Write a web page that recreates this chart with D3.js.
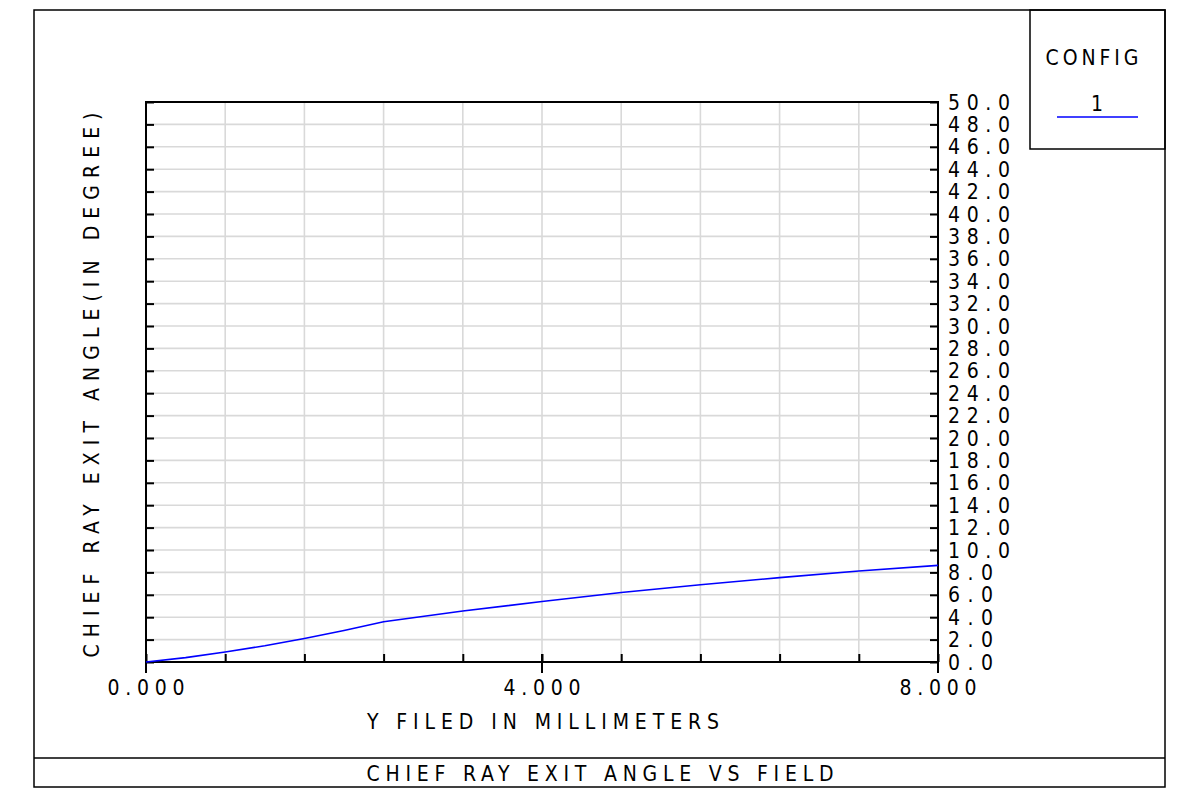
<!DOCTYPE html>
<html><head><meta charset="utf-8">
<script src="https://cdn.jsdelivr.net/npm/d3@7/dist/d3.min.js"></script>
<style>html,body{margin:0;padding:0;background:#fff;}svg{display:block;}
text{font-family:"Liberation Sans Narrow","DejaVu Sans Condensed","DejaVu Sans Mono",sans-serif;fill:#000;}</style>
</head><body>
<script>
// Data
const fieldValues = [0, 0.4, 0.8, 1.2, 1.6, 2.0, 2.4, 3.2, 4.0, 4.8, 5.6, 6.4, 7.2, 8.0];
const angleValues = [0, 0.39, 0.89, 1.45, 2.1, 2.82, 3.6, 4.55, 5.4, 6.2, 6.9, 7.53, 8.12, 8.63];
const yTickValues = d3.range(0, 50.01, 2);
const xTickValues = d3.range(0, 8.01, 0.8);
const xLabelValues = [0, 4, 8];
const chartTitle = "CHIEF RAY EXIT ANGLE VS FIELD";
const xTitle = "Y FILED IN MILLIMETERS";
const yTitle = "CHIEF RAY EXIT ANGLE(IN DEGREE)";
const legendTitle = "CONFIG";
const legendLabels = ["1"];

const W = 1200, H = 802;
const svg = d3.select("body").append("svg").attr("width", W).attr("height", H);

const pLeft = 146, pRight = 938, pTop = 102, pBottom = 662;
const x = d3.scaleLinear().domain([0, 8]).range([pLeft, pRight]);
const y = d3.scaleLinear().domain([0, 50]).range([pBottom, pTop]);
const FS = 21;

// outer frame
svg.append("rect").attr("x", 34).attr("y", 10).attr("width", 1131).attr("height", 777)
  .attr("fill", "none").attr("stroke", "#000").attr("stroke-width", 1.5);
svg.append("line").attr("x1", 34).attr("x2", 1165).attr("y1", 758).attr("y2", 758)
  .attr("stroke", "#000").attr("stroke-width", 1.5);
// legend box
svg.append("rect").attr("x", 1030).attr("y", 10).attr("width", 135).attr("height", 139)
  .attr("fill", "none").attr("stroke", "#000").attr("stroke-width", 1.5);

// grid
const g = svg.append("g");
g.selectAll(".hg").data(yTickValues.slice(1, -1)).join("line")
  .attr("x1", pLeft).attr("x2", pRight).attr("y1", d => y(d)).attr("y2", d => y(d))
  .attr("stroke", "#d9d9d9").attr("stroke-width", 1.6);
g.selectAll(".vg").data(xTickValues.slice(1, -1)).join("line")
  .attr("x1", d => x(d)).attr("x2", d => x(d)).attr("y1", pTop).attr("y2", pBottom)
  .attr("stroke", "#d9d9d9").attr("stroke-width", 1.6);

// axes via d3 axis (inward ticks)
const axL = svg.append("g").attr("transform", `translate(${pLeft},0)`)
  .call(d3.axisRight(y).tickValues(yTickValues).tickSize(8).tickFormat(""));
const axR = svg.append("g").attr("transform", `translate(${pRight},0)`)
  .call(d3.axisLeft(y).tickValues(yTickValues).tickSize(8).tickFormat(""));
const axB = svg.append("g").attr("transform", `translate(0,${pBottom})`)
  .call(d3.axisTop(x).tickValues(xTickValues).tickSize(8).tickFormat(""));
[axL, axR, axB].forEach(a => {
  a.select(".domain").remove();
  a.selectAll("line").attr("stroke", "#000").attr("stroke-width", 2);
});
// major ticks extending below
svg.selectAll(".maj").data(xLabelValues).join("line")
  .attr("x1", d => x(d)).attr("x2", d => x(d)).attr("y1", pBottom - 8).attr("y2", pBottom + 11)
  .attr("stroke", "#000").attr("stroke-width", 2);
// plot frame
svg.append("rect").attr("x", pLeft).attr("y", pTop).attr("width", pRight - pLeft).attr("height", pBottom - pTop)
  .attr("fill", "none").attr("stroke", "#000").attr("stroke-width", 2);

// y tick labels on right
svg.selectAll(".yl").data(yTickValues).join("text")
  .attr("x", 948).attr("y", d => y(d)).attr("dy", "0.36em")
  .attr("font-size", FS)
  .attr("textLength", d => d >= 10 ? 62 : 45).attr("lengthAdjust", "spacing")
  .text(d => d.toFixed(1));

// x labels
svg.selectAll(".xl").data(xLabelValues).join("text")
  .attr("x", d => x(d)).attr("y", 695).attr("text-anchor", "middle")
  .attr("font-size", FS).attr("textLength", 77).attr("lengthAdjust", "spacing")
  .text(d => d.toFixed(3));

// titles
svg.append("text").attr("x", 543).attr("y", 729).attr("text-anchor", "middle")
  .attr("font-size", FS).attr("textLength", 352).attr("lengthAdjust", "spacing").text(xTitle);
svg.append("text").attr("x", 600).attr("y", 781).attr("text-anchor", "middle")
  .attr("font-size", FS).attr("textLength", 467).attr("lengthAdjust", "spacing").text(chartTitle);
svg.append("text").attr("transform", `translate(99,385) rotate(-90)`).attr("text-anchor", "middle")
  .attr("font-size", FS).attr("textLength", 545).attr("lengthAdjust", "spacing").text(yTitle);

// legend
svg.append("text").attr("x", 1092).attr("y", 65).attr("text-anchor", "middle")
  .attr("font-size", FS).attr("textLength", 93).attr("lengthAdjust", "spacing").text(legendTitle);
svg.append("text").attr("x", 1097).attr("y", 111).attr("text-anchor", "middle")
  .attr("font-size", FS).text(legendLabels[0]);
svg.append("line").attr("x1", 1057).attr("x2", 1138).attr("y1", 117).attr("y2", 117)
  .attr("stroke", "#0000ff").attr("stroke-width", 1.6);

// curve
const line = d3.line().x((d, i) => x(fieldValues[i])).y(d => y(d));
svg.append("path").datum(angleValues).attr("d", line)
  .attr("fill", "none").attr("stroke", "#0000ff").attr("stroke-width", 1.6);
</script>
</body></html>
